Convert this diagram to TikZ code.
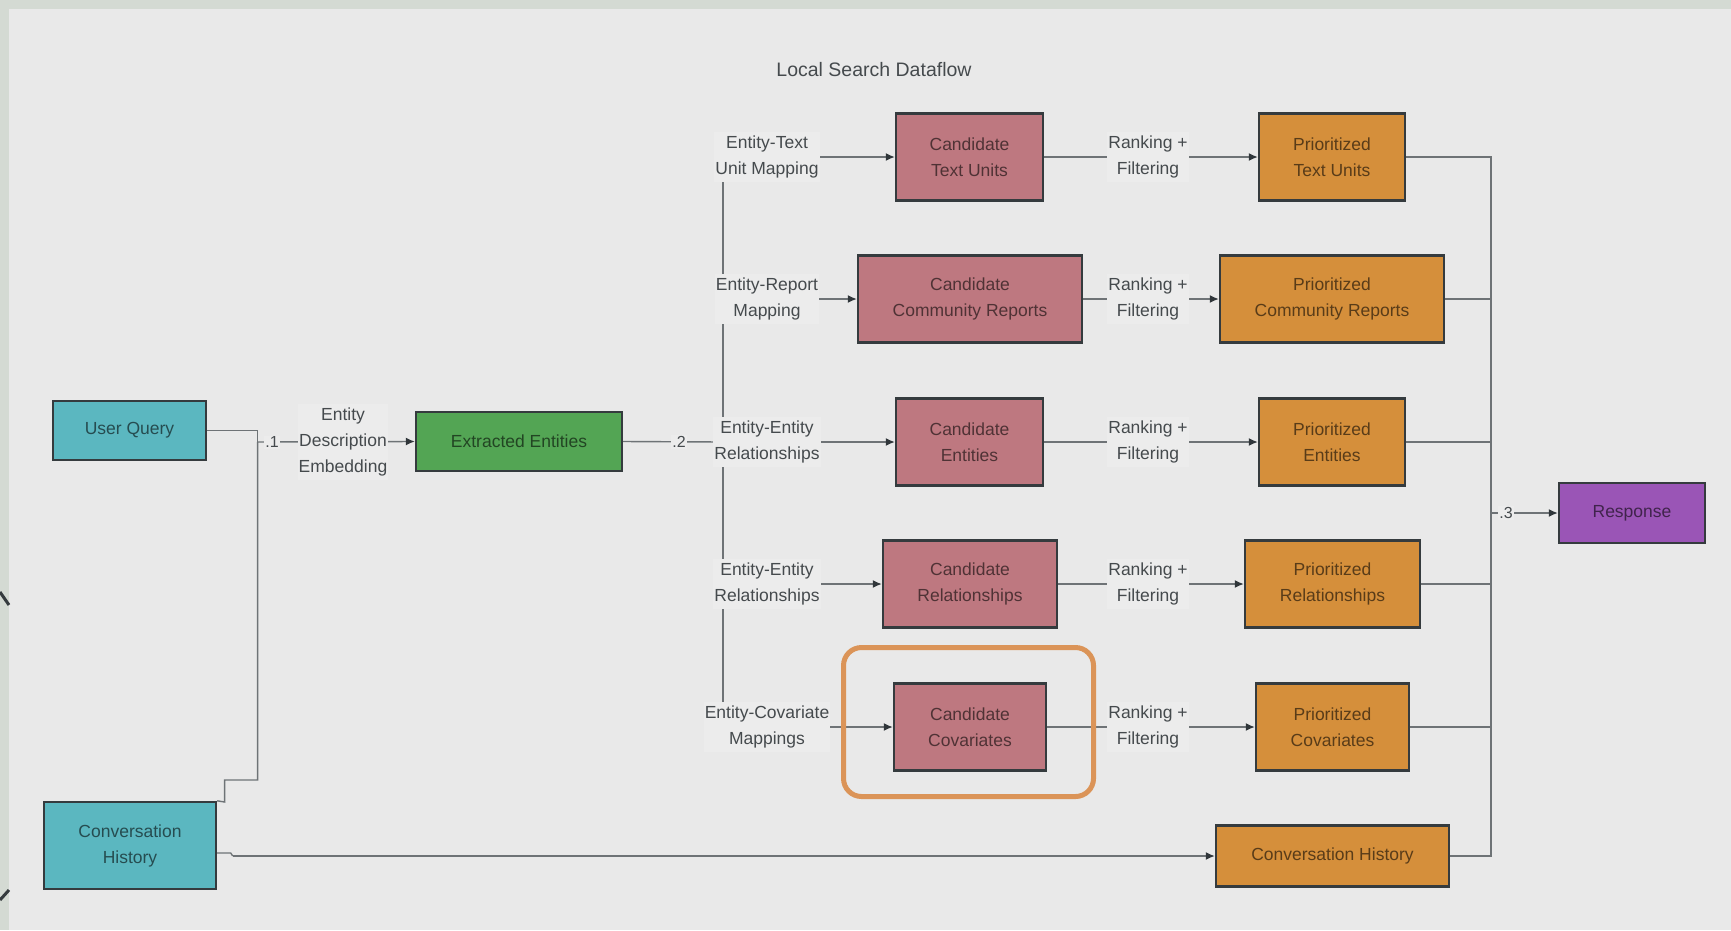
\documentclass[tikz,border=0pt]{standalone}
\usepackage{fontspec}
\setmainfont{Liberation Sans}
\usetikzlibrary{arrows.meta}
\definecolor{bg}{HTML}{E9E9E9}
\definecolor{strip}{HTML}{D4DAD3}
\definecolor{lblbg}{HTML}{ECECEC}
\definecolor{boxline}{HTML}{353B3E}
\definecolor{wire}{HTML}{6E7376}
\definecolor{tip}{HTML}{30363A}
\definecolor{lbltext}{HTML}{454A4D}
\definecolor{teal}{HTML}{5BB7C0}
\definecolor{grn}{HTML}{53A554}
\definecolor{cand}{HTML}{BE7880}
\definecolor{prio}{HTML}{D58F3B}
\definecolor{purp}{HTML}{9A55B6}
\definecolor{hlc}{HTML}{DB9458}
\begin{document}
\begin{tikzpicture}[x=1pt,y=-1pt,
  box/.style={draw=boxline, line width=2.4pt, minimum height=87pt, inner sep=0pt,
    align=center, font=\fontsize{17.5}{26}\selectfont, text=black, text opacity=0.58},
  lbl/.style={fill=lblbg, inner xsep=1pt, inner ysep=4pt, align=center,
    font=\fontsize{17.5}{26}\selectfont, text=lbltext},
  num/.style={fill=lblbg, inner sep=1pt, font=\fontsize{16}{18}\selectfont, text=lbltext},
  wireline/.style={draw=wire, line width=1.4pt},
  arr/.style={wireline, -{Latex[length=9pt,width=8pt,color=tip]}}]
\useasboundingbox (0,0) rectangle (1731,930);
\fill[bg] (0,0) rectangle (1731,930);
\fill[strip] (0,0) rectangle (1731,9);
\fill[strip] (0,0) rectangle (9,930);
\draw[boxline, line width=3pt] (0,592) -- (9,605);
\draw[boxline, line width=3pt] (0,900) -- (9,890);

\node[font=\fontsize{19.5}{22}\selectfont, text=lbltext] (title) at (874,69.5) {Local Search Dataflow};

% left column
\node[box, fill=teal, minimum width=153pt, minimum height=59pt] (UQ) at (129.5,430.5) {User Query};
\node[box, fill=teal, minimum width=172pt, minimum height=87pt] (CHL) at (130,845.5) {Conversation\\History};
\node[box, fill=grn, minimum width=206pt, minimum height=59pt] (EE) at (519,441.5) {Extracted Entities};

% candidates
\node[box, fill=cand, minimum width=147pt] (CTU) at (969.5,157) {Candidate\\Text Units};
\node[box, fill=cand, minimum width=224pt] (CCR) at (970,299) {Candidate\\Community Reports};
\node[box, fill=cand, minimum width=147pt] (CE) at (969.5,442) {Candidate\\Entities};
\node[box, fill=cand, minimum width=174pt] (CR) at (970,584) {Candidate\\Relationships};
\node[box, fill=cand, minimum width=152pt] (CC) at (970,727) {Candidate\\Covariates};

% prioritized
\node[box, fill=prio, minimum width=146pt] (PTU) at (1332,157) {Prioritized\\Text Units};
\node[box, fill=prio, minimum width=224pt] (PCR) at (1332,299) {Prioritized\\Community Reports};
\node[box, fill=prio, minimum width=146pt] (PE) at (1332,442) {Prioritized\\Entities};
\node[box, fill=prio, minimum width=175pt] (PR) at (1332.5,584) {Prioritized\\Relationships};
\node[box, fill=prio, minimum width=153pt] (PC) at (1332.5,727) {Prioritized\\Covariates};
\node[box, fill=prio, minimum width=233pt, minimum height=61pt] (CHR) at (1332.5,856) {Conversation History};

\node[box, fill=purp, minimum width=146pt, minimum height=60pt] (RESP) at (1632,513) {Response};

% junctions
\coordinate (j1) at (257.6,442);
\coordinate (j2) at (723,442);
\coordinate (bus) at (1491,513);

% left connectors
\draw[wireline] (UQ.east) -| (j1);
\draw[wireline] (CHL.north east) -- (224.6,802) -- (224.6,780) -- (257.6,780) -- (j1);
\draw[arr] (j1) -- (EE.west);
\draw[wireline] (CHL.east) ++(0,7.5) -- ++(13.5,0) -- ++(2,3) coordinate (chs);
\draw[arr] (chs) -- (chs -| CHR.west);

% to candidates
\draw[wireline] (EE.east) -- (j2);
\draw[arr] (j2) |- (CTU.west);
\draw[arr] (j2) |- (CCR.west);
\draw[arr] (j2) -- (CE.west);
\draw[arr] (j2) |- (CR.west);
\draw[arr] (j2) |- (CC.west);

% ranking
\draw[arr] (CTU.east) -- (PTU.west);
\draw[arr] (CCR.east) -- (PCR.west);
\draw[arr] (CE.east) -- (PE.west);
\draw[arr] (CR.east) -- (PR.west);
\draw[arr] (CC.east) -- (PC.west);

% bus to response
\draw[wireline] (PTU.east) -| (bus);
\draw[wireline] (PCR.east) -| (bus);
\draw[wireline] (PE.east) -| (bus);
\draw[wireline] (PR.east) -| (bus);
\draw[wireline] (PC.east) -| (bus);
\draw[wireline] (CHR.east) -| (bus);
\draw[arr] (bus) -- (RESP.west);

% labels
\node[num] (n1) at (272,442) {.1};
\node[lbl] (l0) at (343,442) {Entity\\Description\\Embedding};
\node[num] (n2) at (679,442) {.2};
\node[num] (n3) at (1506,513) {.3};

\node[lbl] (l1) at (767,157) {Entity-Text\\Unit Mapping};
\node[lbl] (l2) at (767,299) {Entity-Report\\Mapping};
\node[lbl] (l3) at (767,442) {Entity-Entity\\Relationships};
\node[lbl] (l4) at (767,584) {Entity-Entity\\Relationships};
\node[lbl] (l5) at (767,727) {Entity-Covariate\\Mappings};

\foreach \r/\y in {1/157,2/299,3/442,4/584,5/727}
  \node[lbl] (r\r) at (1148,\y) {Ranking +\\Filtering};

% highlight
\node[draw=hlc, line width=5pt, rounded corners=18pt, minimum width=250pt,
  minimum height=149pt, inner sep=0pt] (hl) at (968.5,722) {};
\end{tikzpicture}
\end{document}
